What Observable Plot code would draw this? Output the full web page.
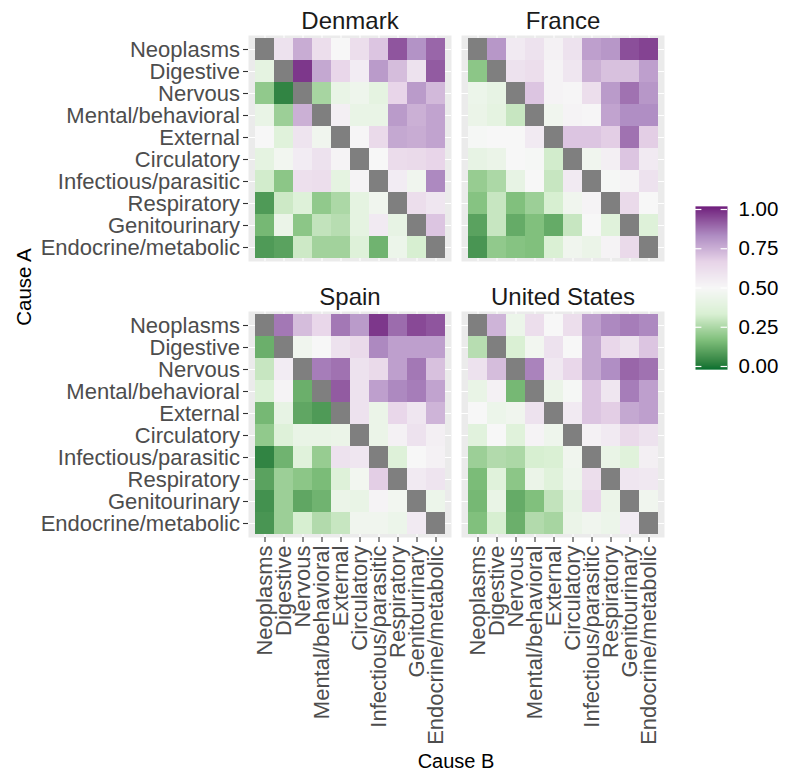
<!DOCTYPE html>
<html><head><meta charset="utf-8">
<script src="https://cdn.jsdelivr.net/npm/d3@7"></script>
<script src="https://cdn.jsdelivr.net/npm/@observablehq/plot@0.6"></script>
<style>
body{margin:0;background:#fff;}
#wrap{position:relative;width:791px;height:773px;font-family:"Liberation Sans",Arial,sans-serif;}
#legend{position:absolute;left:695px;top:200px;}
svg{overflow:visible;}
</style>
</head><body>
<div id="wrap"><div id="main"></div><div id="legend"></div></div>
<script>
const causes = ["Neoplasms","Digestive","Nervous","Mental/behavioral","External","Circulatory","Infectious/parasitic","Respiratory","Genitourinary","Endocrine/metabolic"];
const countries = ["Denmark","France","Spain","United States"];
const legendTicks = [0, 0.25, 0.5, 0.75, 1];

const denmark = [
[null,0.60,0.76,0.62,0.50,0.62,0.70,0.93,0.82,0.90],
[0.40,null,0.98,0.77,0.65,0.55,0.80,0.72,0.60,0.92],
[0.20,0.03,null,0.24,0.42,0.45,0.40,0.66,0.80,0.73],
[0.42,0.22,0.75,null,0.54,0.42,0.42,0.80,0.75,0.78],
[0.50,0.37,0.59,0.46,null,0.51,0.64,0.77,0.76,0.78],
[0.40,0.47,0.55,0.60,0.52,null,0.50,0.63,0.64,0.66],
[0.32,0.19,0.61,0.62,0.40,0.52,null,0.55,0.46,0.84],
[0.08,0.31,0.36,0.20,0.25,0.40,0.46,null,0.62,0.58],
[0.15,0.43,0.19,0.29,0.27,0.40,0.56,0.41,null,0.70],
[0.08,0.10,0.31,0.23,0.23,0.36,0.14,0.44,0.33,null]];

const france = [
[null,0.81,0.56,0.60,0.53,0.60,0.79,0.81,0.94,0.96],
[0.19,null,0.60,0.62,0.52,0.58,0.75,0.71,0.71,0.79],
[0.44,0.41,null,0.70,0.52,0.51,0.62,0.80,0.88,0.81],
[0.43,0.40,0.30,null,0.46,0.52,0.51,0.78,0.83,0.83],
[0.49,0.50,0.50,0.56,null,0.70,0.70,0.68,0.88,0.68],
[0.41,0.43,0.50,0.49,0.32,null,0.46,0.54,0.70,0.56],
[0.21,0.25,0.41,0.50,0.30,0.56,null,0.49,0.52,0.60],
[0.18,0.30,0.17,0.22,0.33,0.46,0.52,null,0.64,0.50],
[0.10,0.30,0.12,0.17,0.12,0.30,0.50,0.37,null,0.36],
[0.07,0.20,0.18,0.17,0.34,0.46,0.43,0.52,0.64,null]];

const spain = [
[null,0.87,0.72,0.65,0.87,0.80,0.98,0.89,0.95,0.93],
[0.13,null,0.46,0.50,0.60,0.64,0.84,0.79,0.79,0.79],
[0.30,0.55,null,0.86,0.88,0.60,0.64,0.79,0.87,0.71],
[0.35,0.52,0.13,null,0.92,0.60,0.79,0.84,0.86,0.78],
[0.15,0.41,0.11,0.08,null,0.60,0.43,0.65,0.58,0.74],
[0.20,0.36,0.42,0.42,0.43,null,0.43,0.53,0.60,0.54],
[0.03,0.14,0.37,0.21,0.60,0.58,null,0.36,0.50,0.53],
[0.10,0.22,0.19,0.16,0.36,0.47,0.68,null,0.56,0.59],
[0.06,0.22,0.11,0.14,0.43,0.42,0.52,0.47,null,0.44],
[0.07,0.22,0.33,0.26,0.30,0.46,0.46,0.44,0.56,null]];

const unitedStates = [
[null,0.74,0.44,0.62,0.50,0.62,0.79,0.84,0.86,0.84],
[0.27,null,0.34,0.47,0.60,0.50,0.77,0.65,0.60,0.70],
[0.60,0.72,null,0.85,0.57,0.65,0.77,0.83,0.90,0.88],
[0.42,0.53,0.15,null,0.43,0.49,0.70,0.58,0.86,0.79],
[0.50,0.44,0.46,0.60,null,0.56,0.70,0.68,0.77,0.79],
[0.38,0.50,0.37,0.52,0.45,null,0.53,0.56,0.64,0.60],
[0.22,0.26,0.25,0.33,0.34,0.46,null,0.42,0.37,0.54],
[0.16,0.37,0.19,0.43,0.37,0.45,0.62,null,0.58,0.57],
[0.15,0.42,0.12,0.17,0.29,0.41,0.65,0.43,null,0.46],
[0.17,0.33,0.13,0.26,0.24,0.43,0.46,0.44,0.55,null]];

const matrices = [denmark, france, spain, unitedStates];

// build tidy table
const cells = [];
matrices.forEach((m, k) => {
  m.forEach((row, i) => row.forEach((v, j) => {
    cells.push({country: countries[k], fx: k % 2, fy: Math.floor(k / 2), a: causes[i], b: causes[j], value: v});
  }));
});
const facetLabels = countries.map((c, k) => ({name: c, fx: k % 2, fy: Math.floor(k / 2)}));

const FONT = '"Liberation Sans", Arial, sans-serif';
const colorScale = {
  type: "linear",
  domain: [0, 1/6, 2/6, 0.5, 4/6, 5/6, 1],
  range: ["#1B7837","#7FBF7B","#D9F0D3","#F7F7F7","#E7D4E8","#AF8DC3","#762A83"],
  interpolate: "lab"
};

const chart = Plot.plot({
  width: 791,
  height: 773,
  marginLeft: 247,
  marginRight: 126,
  marginTop: 35,
  marginBottom: 236,
  style: {fontFamily: FONT, background: "white", overflow: "visible"},
  fx: {axis: null, domain: [0, 1], paddingInner: 0.0467},
  fy: {axis: null, domain: [0, 1], paddingInner: 0.1812},
  x: {domain: causes, paddingInner: 0, paddingOuter: 0.1},
  y: {domain: causes, paddingInner: 0, paddingOuter: 0.1},
  color: colorScale,
  marks: [
    Plot.frame({fill: "#EBEBEB", stroke: null, fx: 0, fy: 0}),
    Plot.frame({fill: "#EBEBEB", stroke: null, fx: 1, fy: 0}),
    Plot.frame({fill: "#EBEBEB", stroke: null, fx: 0, fy: 1}),
    Plot.frame({fill: "#EBEBEB", stroke: null, fx: 1, fy: 1}),
    Plot.gridX({stroke: "white", strokeOpacity: 1, strokeWidth: 1.1}),
    Plot.gridY({stroke: "white", strokeOpacity: 1, strokeWidth: 1.1}),
    Plot.cell(cells.filter(d => d.value != null), {x: "b", y: "a", fx: "fx", fy: "fy", fill: "value", inset: 0}),
    Plot.cell(cells.filter(d => d.value == null), {x: "b", y: "a", fx: "fx", fy: "fy", fill: "#7F7F7F", inset: 0}),
    Plot.axisY({anchor: "left", label: null, fontSize: 22, fill: "#4D4D4D", stroke: "#333333", tickSize: 5, tickPadding: 3.5, strokeWidth: 1.1}),
    Plot.axisX({anchor: "bottom", label: null, fontSize: 22, fill: "#4D4D4D", stroke: "#333333", tickSize: 5, tickPadding: 3, tickRotate: -90, strokeWidth: 1.1}),
    Plot.text(facetLabels, {fx: "fx", fy: "fy", text: "name", frameAnchor: "top", lineAnchor: "bottom", dy: -7, fontSize: 24, fill: "#1A1A1A"})
  ]
});
document.getElementById("main").appendChild(chart);

// axis titles
const svg = d3.select(chart);
svg.append("text")
  .attr("transform", "translate(31,287) rotate(-90)")
  .attr("text-anchor", "middle")
  .attr("font-family", FONT).attr("font-size", 20.5).attr("fill", "black")
  .text("Cause A");
svg.append("text")
  .attr("x", 456).attr("y", 768)
  .attr("text-anchor", "middle")
  .attr("font-family", FONT).attr("font-size", 20).attr("fill", "black")
  .text("Cause B");

// legend (vertical colourbar)
const legend = Plot.plot({
  width: 96,
  height: 175,
  marginLeft: 0,
  marginRight: 64,
  marginTop: 9,
  marginBottom: 9,
  style: {fontFamily: FONT, background: "transparent", overflow: "visible"},
  x: {domain: [0, 1], axis: null},
  y: {domain: [0, 1]},
  color: colorScale,
  marks: [
    Plot.raster({fill: (x, y) => y, x1: 0, x2: 1, y1: -0.02, y2: 1.02, imageRendering: "auto"}),
    Plot.ruleY(legendTicks, {x1: 0, x2: 0.2, stroke: "white", strokeWidth: 1.2}),
    Plot.ruleY(legendTicks, {x1: 0.8, x2: 1, stroke: "white", strokeWidth: 1.2}),
    Plot.axisY(legendTicks, {anchor: "right", label: null, tickSize: 0, tickPadding: 11, fontSize: 20.5, fill: "black", tickFormat: d3.format(".2f")})
  ]
});
document.getElementById("legend").appendChild(legend);
</script>
</body></html>
